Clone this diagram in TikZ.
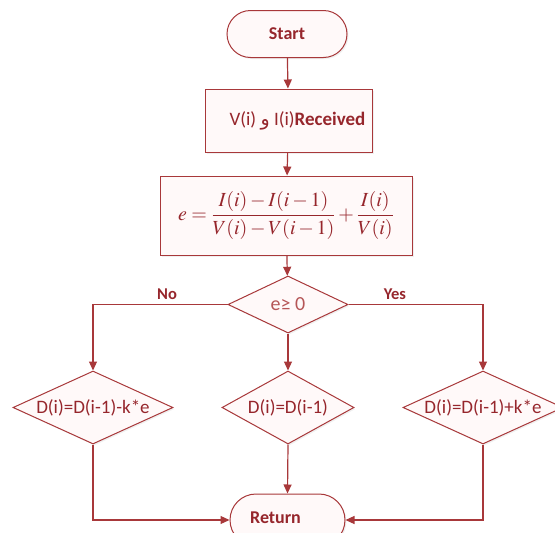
\documentclass[tikz,border=0pt]{standalone}
\usepackage{mathptmx}
\usepackage[no-math]{fontspec}
\setmainfont{Carlito}
\newfontfamily\arabicfont[Script=Arabic]{DejaVu Sans}
\TeXXeTstate=1
\usetikzlibrary{shapes.geometric,arrows.meta,shadows}
\definecolor{lc}{RGB}{168,56,58}
\definecolor{tc}{RGB}{150,38,44}
\definecolor{fc}{RGB}{255,249,249}
\tikzset{
  base/.style={draw=lc, line width=1pt, fill=fc, text=tc, inner sep=0pt,
    drop shadow={opacity=0.12, shadow xshift=1.5pt, shadow yshift=-1.5pt}},
  term/.style={base, rectangle, rounded corners=23.5pt},
  procbox/.style={base, rectangle},
  dia/.style={base, diamond},
  conn/.style={draw=lc, line width=1.2pt, -{Triangle[length=9pt,width=8pt]}},
  yn/.style={text=tc, font=\fontsize{16.5}{18}\selectfont\bfseries}
}
\begin{document}
\begin{tikzpicture}[x=1pt,y=-1pt]
\useasboundingbox (0,0) rectangle (555,533);
\clip (0,0) rectangle (555,533);
\node[term, minimum width=120pt, minimum height=47pt,
  font=\fontsize{18}{20}\selectfont\bfseries] (start) at (287,34) {Start};
\node[procbox, minimum width=167pt, minimum height=63pt,
  label={[text=tc, xshift=9pt, font=\fontsize{19}{22}\selectfont]center:V(i) {\arabicfont\beginR و\endR} I(i)\textbf{Received}}] (recv) at (288.5,120.5) {};
\node[procbox, minimum width=252pt, minimum height=79pt,
  font=\fontsize{20}{24}\selectfont] (form) at (286,215.5)
  {$\displaystyle e=\frac{I(i)-I(i-1)}{V(i)-V(i-1)}+\frac{I(i)}{V(i)}$};
\node[dia, minimum width=120pt, minimum height=57pt,
  label={[text=lc!85!white, font=\fontsize{20}{22}\selectfont]center:e≥ 0}] (dec) at (288,304.5) {};
\node[dia, minimum width=160pt, minimum height=73pt,
  label={[text=tc, font=\fontsize{19}{22}\selectfont]center:D(i)=D(i-1)-k*e}] (d1) at (93,407.5) {};
\node[dia, minimum width=132pt, minimum height=73pt,
  label={[text=tc, font=\fontsize{19}{22}\selectfont]center:D(i)=D(i-1)}] (d2) at (288,407.5) {};
\node[dia, minimum width=160pt, minimum height=73pt,
  label={[text=tc, font=\fontsize{19}{22}\selectfont]center:D(i)=D(i-1)+k*e}] (d3) at (483,407.5) {};
\node[term, minimum width=115pt, minimum height=52pt, rounded corners=26pt,
  label={[text=tc, xshift=-12pt, yshift=2pt, font=\fontsize{18}{20}\selectfont\bfseries]center:Return}] (ret) at (287.5,520) {};
\node[yn] (no) at (167,294) {No};
\node[yn] (yes) at (395,294) {Yes};
\coordinate (cl) at (93,304.5);
\coordinate (cr) at (483,304.5);
\coordinate (bl) at (93,520);
\coordinate (br) at (483,520);
\draw[conn] (start) -- (recv);
\draw[conn] (recv) -- (form);
\draw[conn] (form) -- (dec);
\draw[conn] (dec.west) -- (cl) -- (d1.north);
\draw[conn] (dec.east) -- (cr) -- (d3.north);
\draw[conn] (dec.south) -- (d2.north);
\draw[conn] (d2.south) -- (ret.north);
\draw[conn] (d1.south) -- (bl) -- (ret.west);
\draw[conn] (d3.south) -- (br) -- (ret.east);
\end{tikzpicture}
\end{document}
